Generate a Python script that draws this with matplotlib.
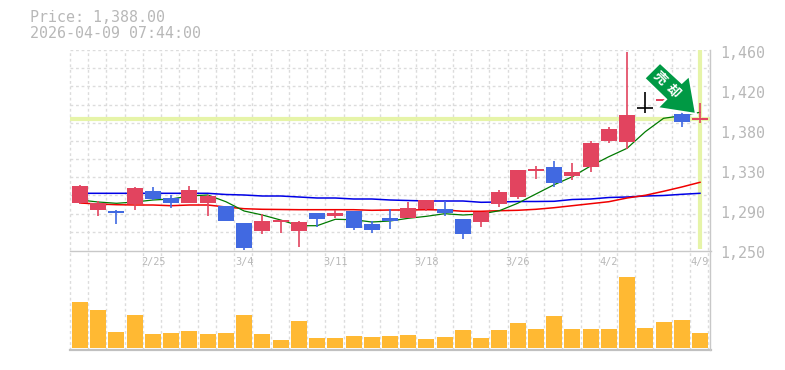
import matplotlib
matplotlib.use("Agg")
import matplotlib.pyplot as plt
from matplotlib.patches import Polygon, Rectangle

W, H = 785, 370
plt.rcParams['font.family'] = ['DejaVu Sans Mono', 'Noto Sans CJK JP']

def p(y):
    return 1460 - (y - 50) * 1.05

# candles (as pixel rows, converted with p)
opens_px  = [203,210,211,204,191,198,203,203,206,223,231,222,231,213,216,211,224,218,218,209,209,219,222,204,197,171,167,176,167,141,142,108,101,114,120]
closes_px = [186,203,213,188,199,203,190,196,221,248,221,220,222,219,213,228,230,221,208,200,213,234,212,192,170,169,183,172,143,129,115,108, 99,122,118]
highs_px  = [185,201,210,187,187,195,186,195,206,223,214,220,221,213,210,211,221,209,202,200,201,219,212,190,170,166,161,163,141,127, 52, 92, 99,112,103]
lows_px   = [204,216,224,210,200,208,203,216,221,251,234,233,247,227,218,230,233,229,218,211,216,239,227,207,199,179,187,180,172,143,149,113,101,127,123]
opens = [p(v) for v in opens_px]
closes = [p(v) for v in closes_px]
highs = [p(v) for v in highs_px]
lows = [p(v) for v in lows_px]

ma_short_px = [200,202,203.3,202,200,199,196,195,201.7,211,215,220,225.7,225.7,219.3,219.7,222,221,218.3,216.3,213.7,215,214,210.7,203.3,194,184.7,176.7,166,156.7,148.3,131.7,118.3,115.7,112.3]
ma_mid_px = [203,204,204.7,205,205,205.7,205,205,207,208.7,209.3,209.5,209.7,209.7,209.7,209.7,210.3,210,210,209.7,210,211.3,211.3,210.7,210.3,209.3,207.7,205.7,203.7,201.7,198,195.3,191.3,187,182.3]
ma_long_px = [193.3,193.3,193.3,193.3,193.3,193.3,193.3,193.3,194.5,195,196,196,197,198,198,199,199,200,200.5,201,201,201,202.3,202,201.5,201.5,201.3,199.5,199,197.5,197,196,195.5,194.3,193.3]
ma_short = [p(v) for v in ma_short_px]
ma_mid = [p(v) for v in ma_mid_px]
ma_long = [p(v) for v in ma_long_px]

volumes = [46,38,16,33,14,15,17,14,15,33,14,8,27,10,10,12,11,12,13,9,11,18,10,18,25,19,32,19,19,19,71,20,26,28,15]

date_pos = [4, 9, 14, 19, 24, 29, 34]
date_labels = ['2/25', '3/4', '3/11', '3/18', '3/26', '4/2', '4/9']
price_ticks = [1460, 1418, 1376, 1334, 1292, 1250]
price_labels = ['1,460', '1,420', '1,380', '1,330', '1,290', '1,250']
last_price = 1388

RED, BLUE, GRID, TXT, HL, VOL, GREEN = '#e2445f', '#4169e1', '#dcdcdc', '#b8b8b8', '#e6f4a8', '#ffb933', '#009944'

fig = plt.figure(figsize=(W / 100, H / 100), dpi=100, facecolor='white')
L, R = 70, 710
def axes_px(top, bottom):
    return fig.add_axes([L / W, 1 - bottom / H, (R - L) / W, (bottom - top) / H])

ax = axes_px(50, 250)
av = axes_px(250, 350)
xmin = -10 / 18.235
xmax = 34 + 10 / 18.235

vgrid = [i - 0.55 for i in range(0, 36)]
for a in (ax, av):
    a.set_xlim(xmin, xmax)
    a.set_facecolor('none')
    a.set_xticks([]); a.set_yticks([])
    for s in a.spines.values():
        s.set_visible(False)
    for g in vgrid:
        a.axvline(g, color=GRID, lw=1, ls=(0, (2, 2)), zorder=0, clip_on=False)

ax.set_ylim(1250, 1460)
for k in range(11):
    ax.axhline(1460 - k * 210 / 11, color=GRID, lw=1, ls=(0, (2, 2)), zorder=0)

ax.axhline(last_price, color=HL, lw=3, zorder=1)
ax.vlines(34, 1251, 1460, color=HL, lw=3, zorder=1)

xs = list(range(35))
ax.plot(xs, ma_long, color='#0000e6', lw=1.1, zorder=2, solid_joinstyle='miter')
ax.plot(xs, ma_mid, color='#f00000', lw=1.1, zorder=2, solid_joinstyle='miter')
ax.plot(xs, ma_short, color='#007a00', lw=0.9, zorder=2, solid_joinstyle='miter')

bw = 16 / 18.235
for i, (o, c, h, l) in enumerate(zip(opens, closes, highs, lows)):
    col = 'black' if o == c else (RED if c > o else BLUE)
    ax.vlines(i, l, h, color=col, lw=1.2, zorder=3)
    if o == c:
        ax.hlines(o, i - bw / 2, i + bw / 2, color=col, lw=1.2, zorder=3)
    else:
        ax.add_patch(Rectangle((i - bw / 2, min(o, c)), bw, abs(c - o), fc=col, ec='none', zorder=4))

av.set_ylim(-2, 98)
av.bar(xs, volumes, width=bw, color=VOL, zorder=2)

# frame lines
fig.add_artist(plt.Line2D([L / W, (R + 1) / W], [1 - 250.5 / H] * 2, color='#c8c8c8', lw=1))
fig.add_artist(plt.Line2D([L / W, (R + 1) / W], [1 - 349.8 / H] * 2, color='#c0c0c0', lw=1.6))
fig.add_artist(plt.Line2D([R / W, R / W], [1 - 50 / H, 1 - 350 / H], color='#c8c8c8', lw=1))

# price labels
for v, s in zip(price_ticks, price_labels):
    y = ax.transData.transform((0, v))[1]
    fig.text(720 / W, (y - 3.5) / H, s, color=TXT, fontsize=10.8, va='center', ha='left')

# date labels
for i, s in zip(date_pos, date_labels):
    x = ax.transData.transform((i, 0))[0]
    fig.text(x / W, 1 - 261.5 / H, s, color=TXT, fontsize=7.4, va='center', ha='center')

fig.text(30 / W, 1 - 18 / H, 'Price: 1,388.00', color=TXT, fontsize=10.8, va='center', ha='left')
fig.text(30 / W, 1 - 33 / H, '2026-04-09 07:44:00', color=TXT, fontsize=10.8, va='center', ha='left')

# signal arrow badge, in pixel rows of the figure
arrow_px = [(660, 62.7), (644.3, 78.3), (666, 99.3), (657.3, 108), (696, 114), (689.3, 75.7), (681.7, 82.7)]
verts = [(x / W, 1 - y / H) for x, y in arrow_px]
fig.add_artist(Polygon(verts, closed=True, fc=GREEN, ec='white', lw=1.5, transform=fig.transFigure, zorder=10))
for (x, y), s in zip([(660, 78.5), (672.5, 91)], ['売', '却']):
    fig.text(x / W, 1 - y / H, s, color='white', fontsize=9.5, fontweight='bold', family='Noto Sans CJK JP',
             rotation=-45, ha='center', va='center', zorder=11)

fig.savefig('out.png', dpi=100)
